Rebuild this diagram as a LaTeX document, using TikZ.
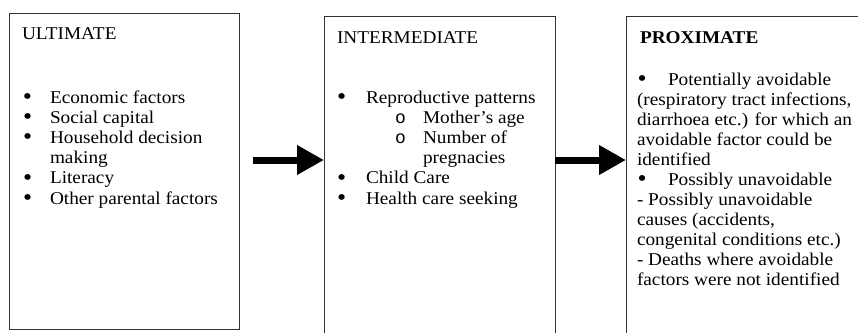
\documentclass[tikz,border=0pt]{standalone}
\usepackage{fontspec}
\usepackage{graphicx}
\setmainfont[FakeStretch=1.07]{Liberation Serif}
\newfontfamily\monofnt{Liberation Mono}
\usetikzlibrary{arrows.meta}
\tikzset{
  frame/.style={draw=black!80, line width=1pt, anchor=north west, inner sep=0pt, outer sep=0pt},
  txt/.style={anchor=base west, inner sep=0pt, outer sep=0pt, font=\fontsize{18}{20}\selectfont},
  bigarrow/.style={line width=7pt, -{Triangle[length=27pt,width=28pt]}},
}
\newcommand\mybullet{\raisebox{-0.08em}{\scalebox{1.35}{\textbullet}}}
\newcommand\bitem[3]{\hbox{\rlap{\hskip#1pt\mybullet}\hskip#2pt\relax #3}}
\newcommand\oitem[3]{\hbox{\rlap{\hskip#1pt{\monofnt o}}\hskip#2pt\relax #3}}
\newcommand\pline[2]{\hbox{\hskip#1pt\relax #2}}
\begin{document}
\begin{tikzpicture}[x=1pt,y=-1pt]
\useasboundingbox (0,0) rectangle (858,332);
\clip (0,0) rectangle (858,332);
% frames
\node[frame, minimum width=230pt, minimum height=316pt] (b1) at (9,13) {};
\node[frame, minimum width=231pt, minimum height=340pt] (b2) at (324,16) {};
\node[frame, minimum width=260pt, minimum height=340pt] (b3) at (626,16) {};
% box 1
\node[txt] (t1) at (22,39) {ULTIMATE};
\node[txt] (l1) at (22,103) {\vtop{\baselineskip=20.2pt
  \bitem{1}{28}{Economic factors}
  \bitem{1}{28}{Social capital}
  \bitem{1}{28}{Household decision}
  \pline{28}{making}
  \bitem{1}{28}{Literacy}
  \bitem{1}{28}{Other parental factors}}};
% box 2
\node[txt] (t2) at (337,43) {INTERMEDIATE};
\node[txt] (l2) at (337,103) {\vtop{\baselineskip=20.2pt
  \bitem{0}{29}{Reproductive patterns}
  \oitem{58}{86}{Mother’s age}
  \oitem{58}{86}{Number of}
  \pline{86}{pregnacies}
  \bitem{0}{29}{Child Care}
  \bitem{0}{29}{Health care seeking}}};
% box 3
\node[txt] (t3) at (640,43) {\textbf{PROXIMATE}};
\node[txt] (l3) at (637,85) {\vtop{\baselineskip=20pt
  \bitem{0.5}{31}{Potentially avoidable}
  \pline{0}{(respiratory tract infections,}
  \pline{0}{diarrhoea etc.) for which an}
  \pline{0}{avoidable factor could be}
  \pline{0}{identified}
  \bitem{0.5}{31}{Possibly unavoidable}
  \pline{0}{- Possibly unavoidable}
  \pline{0}{causes (accidents,}
  \pline{0}{congenital conditions etc.)}
  \pline{0}{- Deaths where avoidable}
  \pline{0}{factors were not identified}}};
% arrows
\coordinate (s1) at (253,160);
\draw[bigarrow] (s1) -- (s1 -| b2.west);
\draw[bigarrow] (b2.east |- s1) -- (b3.west |- s1);
\end{tikzpicture}
\end{document}
